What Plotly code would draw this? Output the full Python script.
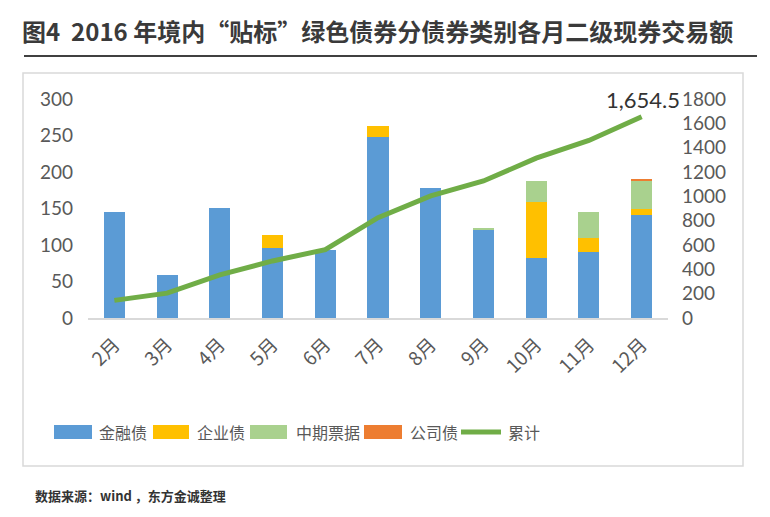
import plotly.graph_objects as go

months = ["2月", "3月", "4月", "5月", "6月", "7月", "8月", "9月", "10月", "11月", "12月"]
financial = [145, 59, 151, 96, 93, 248, 178, 120, 82, 91, 141]
corporate_ent = [0, 0, 0, 18, 0, 15, 0, 0, 77, 19, 9]
mtn = [0, 0, 0, 0, 0, 0, 0, 3, 29, 35, 39]
company = [0, 0, 0, 0, 0, 0, 0, 0, 0, 0, 1.5]
cumulative = [145, 204, 355, 469, 562, 825, 1003, 1126, 1314, 1459, 1654.5]

left_ticks = [0, 50, 100, 150, 200, 250, 300]
right_ticks = [0, 200, 400, 600, 800, 1000, 1200, 1400, 1600, 1800]

series_names = ["金融债", "企业债", "中期票据", "公司债", "累计"]
series_colors = ["#5b9bd5", "#ffc000", "#a9d18e", "#ed7d31", "#70ad47"]

W, H = 770, 517
OFF = 8  # page body margin offset
L, R, T, B = 88 - OFF, 668 - OFF, 99 - OFF, 318 - OFF

tick_font = dict(family="Lato, DejaVu Sans, sans-serif", size=19, color="#595959")
cjk = "Noto Sans CJK SC, sans-serif"


def px_x(p):
    return (p - OFF - L) / (R - L)


def px_y(p):
    return 1 - (p - OFF - T) / (B - T)


fig = go.Figure()
bar_data = [financial, corporate_ent, mtn, company]
for name, color, vals in zip(series_names[:4], series_colors[:4], bar_data):
    fig.add_bar(x=months, y=vals, name=name, marker_color=color, marker_line_width=0)
fig.add_scatter(x=months, y=cumulative, name=series_names[4], mode="lines", yaxis="y2",
                line=dict(color=series_colors[4], width=5))

fig.update_layout(
    width=W, height=H,
    margin=dict(l=L, r=W - R, t=T, b=H - B),
    paper_bgcolor="white", plot_bgcolor="white",
    barmode="stack", bargap=0.6,
    showlegend=False,
    xaxis=dict(showgrid=False, showline=True, linecolor="#d9d9d9", linewidth=2,
               tickangle=-45, ticks="", ticklabelstandoff=6,
               tickfont=dict(family=cjk, size=19, color="#595959")),
    yaxis=dict(range=[0, 300], tickvals=left_ticks, showgrid=False, zeroline=False,
               showline=False, tickfont=tick_font, ticklabelstandoff=14),
    yaxis2=dict(range=[0, 1800], tickvals=right_ticks, overlaying="y", side="right",
                showgrid=False, zeroline=False, showline=False, tickfont=tick_font,
                ticklabelstandoff=13),
    font=dict(family=cjk),
)

# custom legend
legend_items = [
    (54, 92, 97),
    (153, 189, 195),
    (250, 287, 294),
    (364, 402, 408),
    (461, 501, 506),
]
ly = 432
for i, (x0, x1, tx) in enumerate(legend_items):
    if i < 4:
        fig.add_shape(type="rect", xref="paper", yref="paper",
                      x0=px_x(x0), x1=px_x(x1), y0=px_y(ly + 7), y1=px_y(ly - 7),
                      fillcolor=series_colors[i], line_width=0)
    else:
        fig.add_shape(type="line", xref="paper", yref="paper",
                      x0=px_x(x0), x1=px_x(x1), y0=px_y(ly), y1=px_y(ly),
                      line=dict(color=series_colors[i], width=5))
    fig.add_annotation(text=series_names[i], xref="paper", yref="paper",
                       x=px_x(tx), y=px_y(ly), xanchor="left", yanchor="middle",
                       showarrow=False, font=dict(family=cjk, size=16, color="#595959"))

fig.add_annotation(text="1,654.5", xref="paper", yref="paper",
                   x=px_x(682), y=px_y(99), xanchor="right", yanchor="middle",
                   showarrow=False,
                   font=dict(family="Lato, DejaVu Sans, sans-serif", size=22, color="#333333"))

fig.add_annotation(text="<b>图4  2016 年境内“贴标”绿色债券分债券类别各月二级现券交易额</b>",
                   xref="paper", yref="paper",
                   x=px_x(20), y=px_y(30),
                   xanchor="left", yanchor="middle", showarrow=False,
                   font=dict(family=cjk, size=24, color="#3a3a3a"))

fig.add_annotation(text="<b>数据来源：wind ，东方金诚整理</b>",
                   xref="paper", yref="paper",
                   x=px_x(33), y=px_y(495),
                   xanchor="left", yanchor="middle", showarrow=False,
                   font=dict(family=cjk, size=13, color="#333333"))

fig.add_shape(type="line", xref="paper", yref="paper",
              x0=px_x(24), x1=px_x(757), y0=px_y(56), y1=px_y(56),
              line=dict(color="#000000", width=1.5))
fig.add_shape(type="rect", xref="paper", yref="paper",
              x0=px_x(23), x1=px_x(743), y0=px_y(73), y1=px_y(466),
              line=dict(color="#d9d9d9", width=1.5), layer="below")

fig.write_html("out.html")
